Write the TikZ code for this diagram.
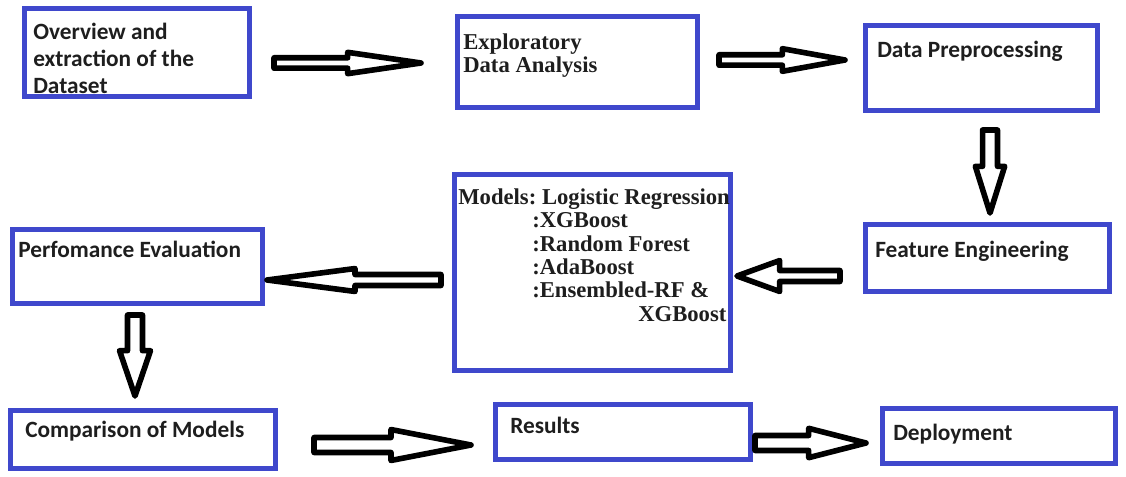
\documentclass[tikz,border=0pt]{standalone}
\usepackage{fontspec}
\setmainfont{Carlito}
\newfontfamily\serifbold{Liberation Serif}
\usetikzlibrary{calc}
\frenchspacing

\definecolor{boxblue}{RGB}{63,72,204}
\definecolor{txtgray}{RGB}{30,30,30}

\tikzset{
  stage/.style={rectangle, draw=boxblue, line width=3.75pt, inner sep=0pt, outer sep=0pt},
  sanstxt/.style={font=\fontsize{17.5}{20.6}\selectfont\bfseries, text=txtgray, inner sep=0pt, align=left},
  seriftxt/.style={font=\serifbold\fontsize{17}{17.5}\selectfont\bfseries, text=txtgray, inner sep=0pt, align=left},
  hollow/.style={draw=black, line width=4.2pt, fill=white, line join=round}
}

% #1 tail, #2 tip, #3 shaft half width, #4 head half width, #5 head length
\newcommand{\fatarrow}[5]{%
  \coordinate (#1-b) at ($(#2)!#5!(#1)$);
  \draw[hollow] ($(#1)!#3!90:(#2)$) -- ($(#1-b)!#3!90:(#2)$) -- ($(#1-b)!#4!90:(#2)$)
    -- (#2) -- ($(#1-b)!#4!-90:(#2)$) -- ($(#1-b)!#3!-90:(#2)$) -- ($(#1)!#3!-90:(#2)$) -- cycle;
}

\begin{document}
\begin{tikzpicture}[x=0.75pt, y=-0.75pt]
\useasboundingbox (0,0) rectangle (1126,477);

% boxes
\node[stage, minimum width=168.75pt, minimum height=66pt] (ovw) at (137,52.5){};
\node[stage, minimum width=180pt, minimum height=68.25pt] (eda) at (577.5,62){};
\node[stage, minimum width=174pt, minimum height=63.75pt] (prep) at (981.5,68){};
\node[stage, minimum width=183pt, minimum height=50.25pt] (feat) at (987.5,258){};
\node[stage, minimum width=207pt, minimum height=147pt] (mdl) at (592.5,272.5){};
\node[stage, minimum width=187.5pt, minimum height=55.5pt] (perf) at (137.5,266.5){};
\node[stage, minimum width=198.75pt, minimum height=43.5pt] (cmp) at (143,439.5){};
\node[stage, minimum width=191.25pt, minimum height=41.25pt] (res) at (623,432){};
\node[stage, minimum width=174.75pt, minimum height=41.25pt] (dep) at (999,436){};

% texts (base = last line)
\node[sanstxt, anchor=base west] (ovw-t) at (33,94){Overview and\\extraction of the\\Dataset};
\node[seriftxt, anchor=base west] (eda-t) at (463,73){Exploratory\\Data Analysis};
\node[sanstxt, anchor=base west] (prep-t) at (877,58){Data Preprocessing};
\node[sanstxt, anchor=base west] (feat-t) at (875,257){Feature Engineering};
\node[seriftxt, anchor=base west] (mdl-t) at (458,321){Models: Logistic Regression\\
  \hspace*{55.5pt}:XGBoost\\
  \hspace*{55.5pt}:Random Forest\\
  \hspace*{55.5pt}:AdaBoost\\
  \hspace*{55.5pt}:Ensembled-RF \&\\
  \hspace*{135pt}XGBoost};
\node[sanstxt, anchor=base west] (perf-t) at (18,257){Perfomance Evaluation};
\node[sanstxt, anchor=base west] (cmp-t) at (25,437){Comparison of Models};
\node[sanstxt, anchor=base west] (res-t) at (510,433){Results};
\node[sanstxt, anchor=base west] (dep-t) at (893,440){Deployment};

% arrow ends
\coordinate (a1) at (274,63);   \coordinate (a1e) at (421,63);
\coordinate (a2) at (719,60);   \coordinate (a2e) at (845,60);
\coordinate (a3) at (990,130);  \coordinate (a3e) at (990,213);
\coordinate (a4) at (840,276);  \coordinate (a4e) at (737,276);
\coordinate (a5) at (441,280);  \coordinate (a5e) at (267,280);
\coordinate (a6) at (135,315);  \coordinate (a6e) at (135,396);
\coordinate (a7) at (314,445);  \coordinate (a7e) at (471,445);
\coordinate (a8) at (755,443);  \coordinate (a8e) at (866,443);

\fatarrow{a1}{a1e}{3.9pt}{8pt}{55pt}
\fatarrow{a2}{a2e}{3.9pt}{8.5pt}{47pt}
\fatarrow{a3}{a3e}{5.6pt}{11pt}{35pt}
\fatarrow{a4}{a4e}{4.1pt}{11.6pt}{32pt}
\fatarrow{a5}{a5e}{4.1pt}{8.6pt}{66pt}
\fatarrow{a6}{a6e}{5.6pt}{11.6pt}{34pt}
\fatarrow{a7}{a7e}{5.6pt}{11.6pt}{60pt}
\fatarrow{a8}{a8e}{5.6pt}{11pt}{43pt}

\end{tikzpicture}
\end{document}
